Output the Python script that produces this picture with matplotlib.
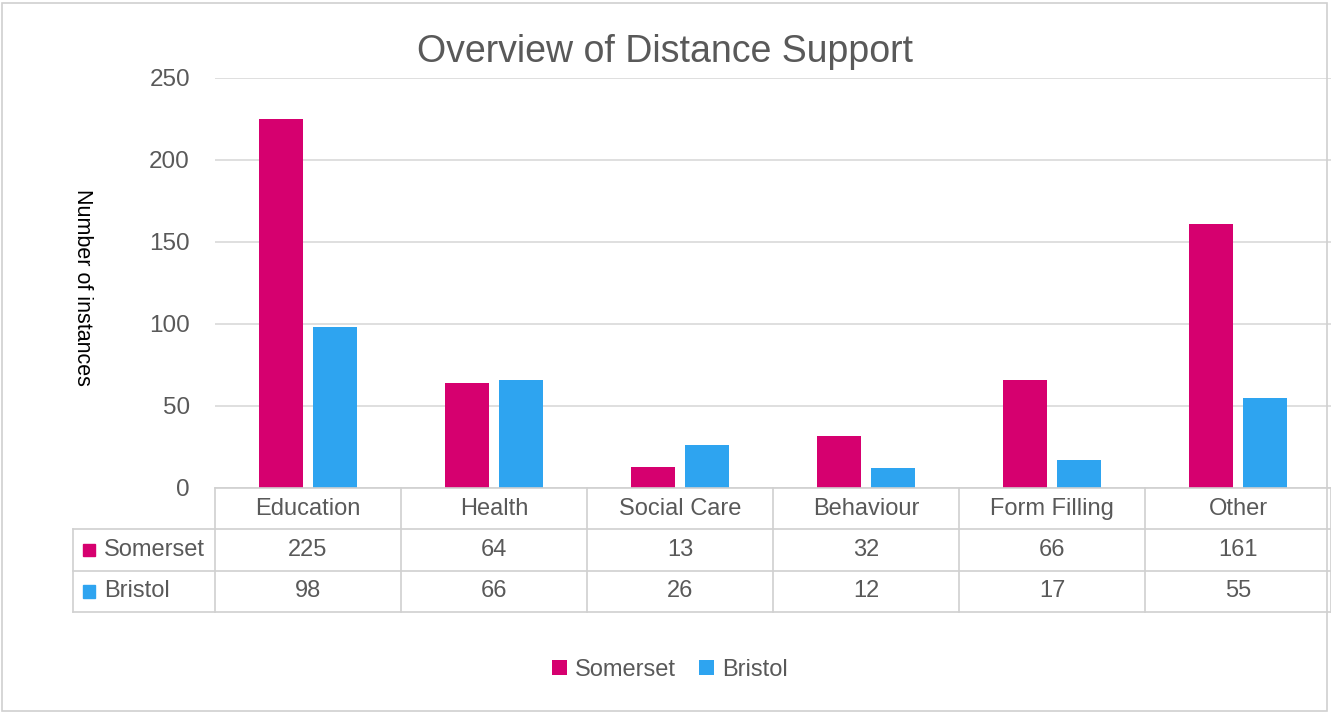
import matplotlib.pyplot as plt
from matplotlib.patches import Rectangle
import numpy as np

plt.rcParams['font.family'] = ['Liberation Sans', 'DejaVu Sans']

categories = ["Education", "Health", "Social Care", "Behaviour", "Form Filling", "Other"]
somerset = [225, 64, 13, 32, 66, 161]
bristol = [98, 66, 26, 12, 17, 55]
series_names = ["Somerset", "Bristol"]
colors = ["#D6006F", "#2EA4F0"]
text_col = "#595959"
grid_col = "#D9D9D9"

W, H = 1331, 713
fig = plt.figure(figsize=(W / 100, H / 100), dpi=100)

def fbox(x0, y0, x1, y1):
    # pixel box -> figure fraction
    return [x0 / W, 1 - y1 / H, (x1 - x0) / W, (y1 - y0) / H]

# outer frame
fig.patches.append(Rectangle((2 / W, 2 / H), (W - 6) / W, (H - 5) / H, transform=fig.transFigure,
                             fill=False, edgecolor="#D0D0D0", lw=1.2))

ax = fig.add_axes(fbox(215, 78, 1331, 488))
x = np.arange(len(categories))
bw = 0.235
ax.bar(x - 0.147, somerset, bw, color=colors[0], label=series_names[0], zorder=3)
ax.bar(x + 0.147, bristol, bw, color=colors[1], label=series_names[1], zorder=3)
ax.set_xlim(-0.5, len(categories) - 0.5)
ax.set_ylim(0, 250)
ax.set_yticks(range(0, 251, 50))
ax.yaxis.grid(True, color=grid_col, lw=1.2, zorder=0)
ax.set_xticks([])
for s in ax.spines.values():
    s.set_visible(False)
ax.tick_params(axis='y', length=0, labelsize=17.5, labelcolor=text_col, pad=18)
ax.set_ylabel("Number of instances", rotation=-90, fontsize=15.5, labelpad=0)
ax.yaxis.set_label_coords(-0.128, 0.49)

fig.text(665 / W, 1 - 52 / H, "Overview of Distance Support", ha="center", va="center",
         fontsize=27, color=text_col)

# data table under the axes
tab = fig.add_axes(fbox(73, 488, 1331, 612))
left = -0.5 - 142 / 186
tab.set_xlim(left, len(categories) - 0.5)
tab.set_ylim(3, 0)
tab.axis("off")
lc = "#D0D0D0"
fs = 17
# horizontal lines
tab.plot([-0.5, len(categories) - 0.5], [0, 0], color=lc, lw=1.2, clip_on=False)
for yy in (1, 2, 3):
    tab.plot([left, len(categories) - 0.5], [yy, yy], color=lc, lw=1.2, clip_on=False)
# vertical lines
tab.plot([left, left], [1, 3], color=lc, lw=1.2, clip_on=False)
for i in range(len(categories) + 1):
    tab.plot([i - 0.5, i - 0.5], [0, 3], color=lc, lw=1.2, clip_on=False)
for i, c in enumerate(categories):
    tab.text(i, 0.5, c, ha="center", va="center", fontsize=fs, color=text_col)
    tab.text(i, 1.5, str(somerset[i]), ha="center", va="center", fontsize=fs, color=text_col)
    tab.text(i, 2.5, str(bristol[i]), ha="center", va="center", fontsize=fs, color=text_col)
for r, (name, col) in enumerate(zip(series_names, colors)):
    tab.add_patch(Rectangle((left + 0.055, r + 1.35), 0.065, 0.3, color=col, clip_on=False))
    tab.text(left + 0.165, r + 1.5, name, ha="left", va="center", fontsize=fs, color=text_col)

leg = fig.legend(loc="center", bbox_to_anchor=(670 / W, 1 - 670 / H), ncol=2, frameon=False,
                 fontsize=17, handlelength=0.6, handleheight=0.6, handletextpad=0.35, columnspacing=1.0)
for t in leg.get_texts():
    t.set_color(text_col)

fig.savefig("out.png", dpi=100, facecolor="white")
